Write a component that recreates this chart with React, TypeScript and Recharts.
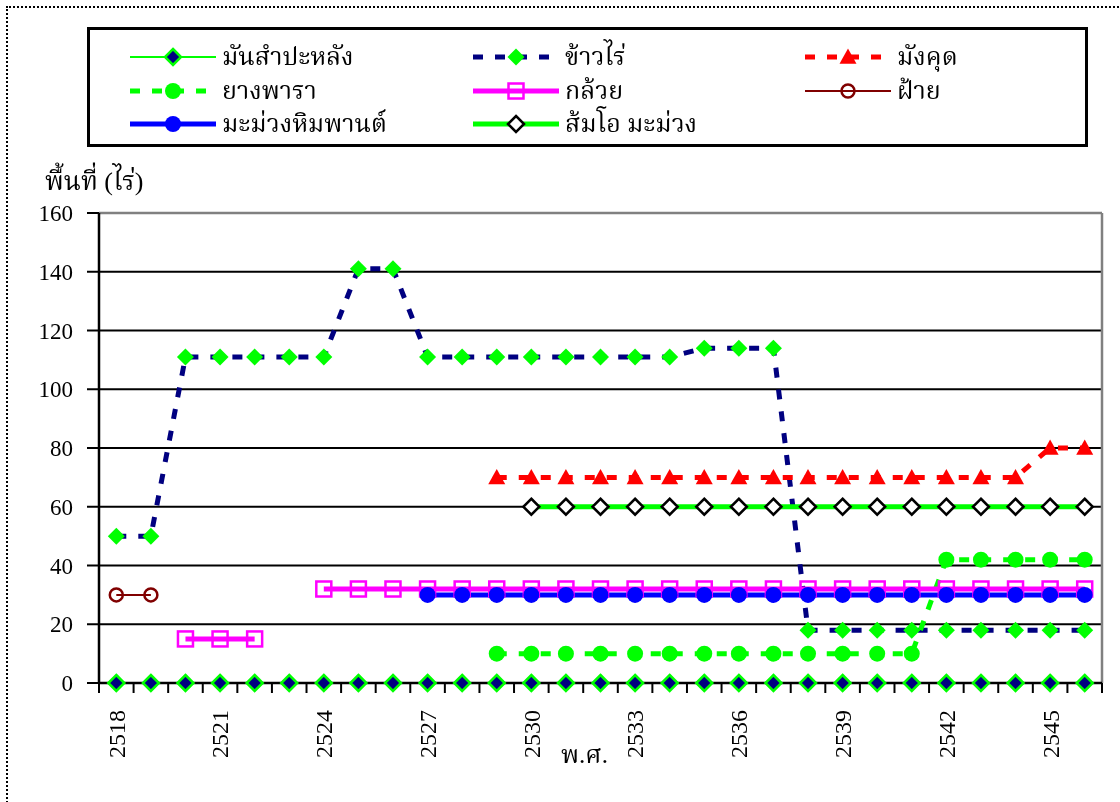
import React from 'react';
import { LineChart, Line, XAxis, YAxis, CartesianGrid, ReferenceLine } from 'recharts';

const years = [2518, 2519, 2520, 2521, 2522, 2523, 2524, 2525, 2526, 2527, 2528, 2529, 2530, 2531, 2532, 2533, 2534, 2535, 2536, 2537, 2538, 2539, 2540, 2541, 2542, 2543, 2544, 2545, 2546];
const xLabelTicks = [2518, 2521, 2524, 2527, 2530, 2533, 2536, 2539, 2542, 2545];
const yTicks = [0, 20, 40, 60, 80, 100, 120, 140, 160];

const cassava = [0, 0, 0, 0, 0, 0, 0, 0, 0, 0, 0, 0, 0, 0, 0, 0, 0, 0, 0, 0, 0, 0, 0, 0, 0, 0, 0, 0, 0];
const uplandRice = [50, 50, 111, 111, 111, 111, 111, 141, 141, 111, 111, 111, 111, 111, 111, 111, 111, 114, 114, 114, 18, 18, 18, 18, 18, 18, 18, 18, 18];
const mangosteen = [null, null, null, null, null, null, null, null, null, null, null, 70, 70, 70, 70, 70, 70, 70, 70, 70, 70, 70, 70, 70, 70, 70, 70, 80, 80];
const rubber = [null, null, null, null, null, null, null, null, null, null, null, 10, 10, 10, 10, 10, 10, 10, 10, 10, 10, 10, 10, 10, 42, 42, 42, 42, 42];
const banana = [null, null, 15, 15, 15, null, 32, 32, 32, 32, 32, 32, 32, 32, 32, 32, 32, 32, 32, 32, 32, 32, 32, 32, 32, 32, 32, 32, 32];
const cotton = [30, 30, null, null, null, null, null, null, null, null, null, null, null, null, null, null, null, null, null, null, null, null, null, null, null, null, null, null, null];
const cashew = [null, null, null, null, null, null, null, null, null, 30, 30, 30, 30, 30, 30, 30, 30, 30, 30, 30, 30, 30, 30, 30, 30, 30, 30, 30, 30];
const pomeloMango = [null, null, null, null, null, null, null, null, null, null, null, null, 60, 60, 60, 60, 60, 60, 60, 60, 60, 60, 60, 60, 60, 60, 60, 60, 60];

const data = years.map((year, i) => ({
  year,
  cassava: cassava[i],
  uplandRice: uplandRice[i],
  mangosteen: mangosteen[i],
  rubber: rubber[i],
  banana: banana[i],
  cotton: cotton[i],
  cashew: cashew[i],
  pomeloMango: pomeloMango[i],
}));

const boundaries = [...years.map((y) => y - 0.5), years[years.length - 1] + 0.5];

type Shape = 'diamond' | 'triangle' | 'square' | 'circle';
interface SeriesStyle {
  key: string;
  name: string;
  color: string;
  width: number;
  dash?: string;
  shape: Shape;
  r: number;
  fill: string;
  stroke: string;
  sw: number;
}

const series: SeriesStyle[] = [
  { key: 'cassava', name: 'มันสำปะหลัง', color: '#00FF00', width: 2, shape: 'diamond', r: 8, fill: '#000080', stroke: '#00FF00', sw: 2.5 },
  { key: 'uplandRice', name: 'ข้าวไร่', color: '#000080', width: 5, dash: '10 12', shape: 'diamond', r: 8.5, fill: '#00FF00', stroke: 'none', sw: 0 },
  { key: 'mangosteen', name: 'มังคุด', color: '#FF0000', width: 5, dash: '10 12', shape: 'triangle', r: 8.5, fill: '#FF0000', stroke: 'none', sw: 0 },
  { key: 'rubber', name: 'ยางพารา', color: '#00FF00', width: 5, dash: '10 12', shape: 'circle', r: 8, fill: '#00FF00', stroke: 'none', sw: 0 },
  { key: 'banana', name: 'กล้วย', color: '#FF00FF', width: 5, shape: 'square', r: 7.5, fill: 'none', stroke: '#FF00FF', sw: 2.5 },
  { key: 'cotton', name: 'ฝ้าย', color: '#800000', width: 2, shape: 'circle', r: 6.5, fill: 'none', stroke: '#800000', sw: 2.5 },
  { key: 'cashew', name: 'มะม่วงหิมพานต์', color: '#0000FF', width: 5, shape: 'circle', r: 8, fill: '#0000FF', stroke: 'none', sw: 0 },
  { key: 'pomeloMango', name: 'ส้มโอ มะม่วง', color: '#00FF00', width: 5, shape: 'diamond', r: 8, fill: '#FFFFFF', stroke: '#000000', sw: 2.5 },
];

const FONT = "'Liberation Serif', 'Times New Roman', 'Noto Serif Thai', 'Noto Sans Thai', serif";

function Marker({ s, cx, cy }: { s: SeriesStyle; cx: number; cy: number }) {
  const r = s.r;
  const common = { fill: s.fill, stroke: s.stroke, strokeWidth: s.sw };
  if (s.shape === 'diamond') {
    return <polygon points={`${cx},${cy - r} ${cx + r},${cy} ${cx},${cy + r} ${cx - r},${cy}`} {...common} />;
  }
  if (s.shape === 'triangle') {
    return <polygon points={`${cx},${cy - r} ${cx + r},${cy + r * 0.8} ${cx - r},${cy + r * 0.8}`} {...common} />;
  }
  if (s.shape === 'square') {
    return <rect x={cx - r} y={cy - r} width={2 * r} height={2 * r} {...common} />;
  }
  return <circle cx={cx} cy={cy} r={r} {...common} />;
}

const makeDot = (s: SeriesStyle) => (p: any) => {
  if (p.cx == null || p.cy == null || p.value == null || Number.isNaN(p.cy)) return <g key={`${s.key}-${p.index}`} />;
  return (
    <g key={`${s.key}-${p.index}`}>
      <Marker s={s} cx={p.cx} cy={p.cy} />
    </g>
  );
};

const NoTick = () => <g />;

const XLabelTick = (props: any) => {
  const { x, y, payload } = props;
  return (
    <text x={x} y={y} transform={`rotate(-90 ${x} ${y})`} textAnchor="end" dy="0.35em" fontSize={24} fontFamily={FONT} fill="#000">
      {payload.value}
    </text>
  );
};

const legendCols = [43, 386, 718];
const legendRows = [30, 64, 97];

function LegendIcon({ s }: { s: SeriesStyle }) {
  return (
    <svg width={86} height={30} style={{ display: 'block' }}>
      <line x1={0} y1={15} x2={86} y2={15} stroke={s.color} strokeWidth={s.width} strokeDasharray={s.dash} />
      <Marker s={s} cx={43} cy={15} />
    </svg>
  );
}

export default function App() {
  return (
    <div style={{ position: 'relative', width: 1104, height: 790, fontFamily: FONT }}>
      <div style={{ position: 'fixed', left: 6, top: 6, width: 1300, height: 1000, border: '2px dotted #000', pointerEvents: 'none' }} />
      <LineChart width={1104} height={790} data={data} margin={{ top: 205, right: 10, bottom: 5, left: 31 }}>
        <CartesianGrid xAxisId="b" vertical={false} stroke="#000" strokeWidth={2} />
        <ReferenceLine xAxisId="b" y={160} stroke="#808080" strokeWidth={2.5} />
        <ReferenceLine xAxisId="b" x={2546.5} stroke="#808080" strokeWidth={2.5} />
        <XAxis
          xAxisId="b"
          type="number"
          dataKey="year"
          domain={[2517.5, 2546.5]}
          ticks={boundaries}
          interval={0}
          tick={NoTick}
          tickSize={10}
          height={12}
          axisLine={{ stroke: '#000', strokeWidth: 2.5 }}
          tickLine={{ stroke: '#000', strokeWidth: 2 }}
        />
        <XAxis
          xAxisId="l"
          type="number"
          dataKey="year"
          domain={[2517.5, 2546.5]}
          ticks={xLabelTicks}
          interval={0}
          tick={XLabelTick}
          tickSize={0}
          tickMargin={15}
          height={98}
          axisLine={false}
          tickLine={false}
          label={(lp: any) => {
            const vb = lp.viewBox || { x: 91, y: 687, width: 1003 };
            return (
              <text x={vb.x + vb.width / 2 - 16} y={vb.y + 68} textAnchor="middle" fontSize={25} fontFamily={FONT} fill="#000">
                พ.ศ.
              </text>
            );
          }}
        />
        <YAxis
          type="number"
          domain={[0, 160]}
          ticks={yTicks}
          interval={0}
          width={60}
          tickSize={12}
          tickMargin={14}
          tick={{ fontSize: 23, fill: '#000', fontFamily: FONT }}
          axisLine={{ stroke: '#000', strokeWidth: 2.5 }}
          tickLine={{ stroke: '#000', strokeWidth: 2 }}
          label={(lp: any) => {
            const vb = lp.viewBox || { x: 31, y: 205 };
            return (
              <text x={vb.x + 6} y={vb.y - 23} fontSize={26} fontFamily={FONT} fill="#000">
                พื้นที่ (ไร่)
              </text>
            );
          }}
        />
        {series.map((s) => (
          <Line
            key={s.key}
            xAxisId="b"
            type="linear"
            dataKey={s.key}
            name={s.name}
            stroke={s.color}
            strokeWidth={s.width}
            strokeDasharray={s.dash}
            dot={makeDot(s)}
            activeDot={false}
            isAnimationActive={false}
            connectNulls={false}
          />
        ))}
      </LineChart>
      <div
        style={{
          position: 'absolute',
          left: 79,
          top: 19,
          width: 995,
          height: 114,
          border: '3px solid #000',
          background: '#fff',
        }}
      >
        {series.map((s, i) => {
          const col = i % 3;
          const row = Math.floor(i / 3);
          return (
            <div
              key={s.key}
              style={{ position: 'absolute', left: legendCols[col] - 3, top: legendRows[row] - 18, display: 'flex', alignItems: 'center', height: 30 }}
            >
              <LegendIcon s={s} />
              <span style={{ marginLeft: 6, fontSize: 25, lineHeight: '30px', whiteSpace: 'nowrap', color: '#000' }}>{s.name}</span>
            </div>
          );
        })}
      </div>
    </div>
  );
}
